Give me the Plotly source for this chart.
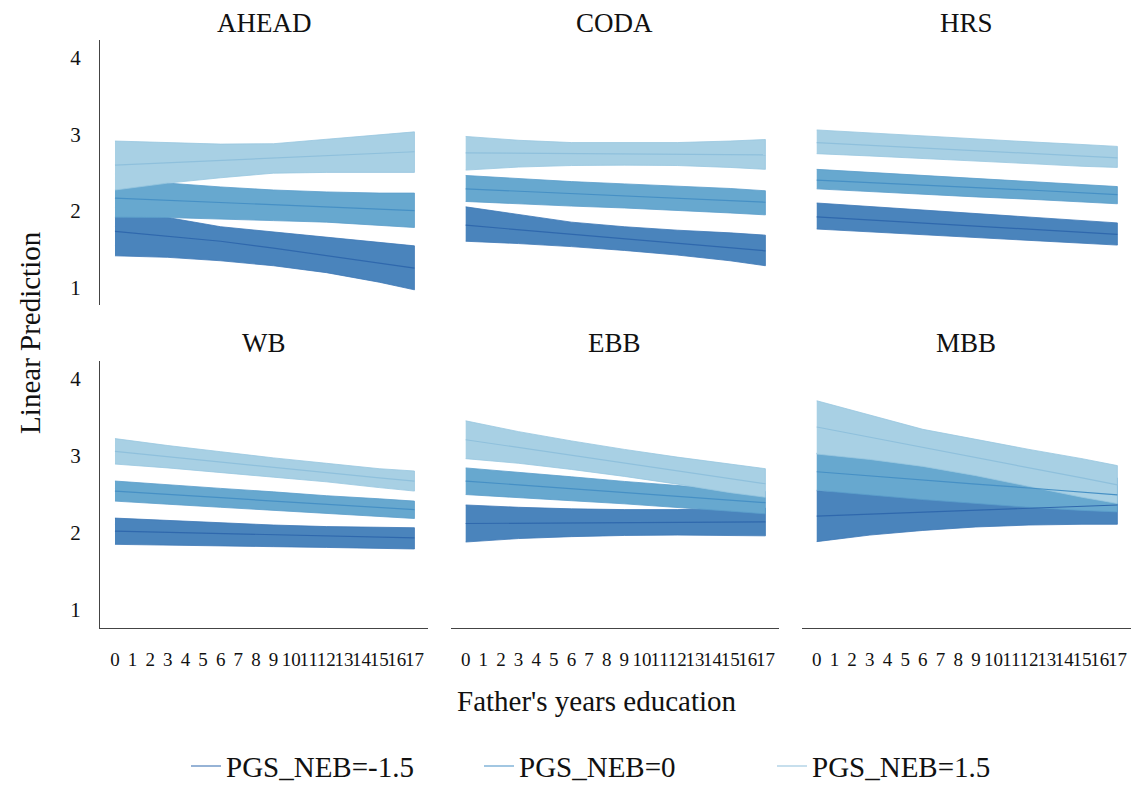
import plotly.graph_objects as go

# Father's years of education at which the margins were evaluated
EDU_POINTS = [0, 3, 6, 9, 12, 15, 17]
TICK_VALUES = [0, 1, 2, 3, 4, 5, 6, 7, 8, 9, 10, 11, 12, 13, 14, 15, 16, 17]
Y_TICKS = [1, 2, 3, 4]

LEVELS = ["PGS_NEB=-1.5", "PGS_NEB=0", "PGS_NEB=1.5"]

# Per cohort: [PGS -1.5, PGS 0, PGS 1.5] -> lower CI, prediction, upper CI
AHEAD_LO = [[1.41, 1.39, 1.345, 1.28, 1.19, 1.065, 0.965],
            [1.915, 1.91, 1.89, 1.87, 1.85, 1.81, 1.78],
            [2.27, 2.36, 2.43, 2.49, 2.50, 2.50, 2.50]]
AHEAD_FIT = [[1.73, 1.665, 1.60, 1.51, 1.41, 1.315, 1.25],
             [2.165, 2.135, 2.11, 2.08, 2.05, 2.02, 2.00],
             [2.595, 2.625, 2.655, 2.685, 2.715, 2.745, 2.77]]
AHEAD_HI = [[2.04, 1.91, 1.79, 1.72, 1.65, 1.58, 1.54],
            [2.41, 2.36, 2.31, 2.27, 2.245, 2.23, 2.23],
            [2.91, 2.89, 2.87, 2.875, 2.93, 2.99, 3.03]]

CODA_LO = [[1.60, 1.57, 1.53, 1.48, 1.42, 1.345, 1.28],
           [2.12, 2.09, 2.06, 2.035, 2.005, 1.97, 1.945],
           [2.53, 2.57, 2.59, 2.595, 2.59, 2.565, 2.54]]
CODA_FIT = [[1.81, 1.75, 1.69, 1.63, 1.575, 1.515, 1.475],
            [2.285, 2.255, 2.225, 2.195, 2.165, 2.135, 2.11],
            [2.755, 2.75, 2.745, 2.74, 2.74, 2.735, 2.73]]
CODA_HI = [[2.05, 1.95, 1.85, 1.79, 1.745, 1.71, 1.68],
           [2.46, 2.42, 2.38, 2.35, 2.32, 2.29, 2.26],
           [2.97, 2.92, 2.89, 2.89, 2.89, 2.91, 2.93]]

HRS_LO = [[1.76, 1.72, 1.685, 1.65, 1.61, 1.575, 1.55],
          [2.285, 2.25, 2.215, 2.18, 2.15, 2.115, 2.09],
          [2.745, 2.715, 2.68, 2.65, 2.615, 2.58, 2.565]]
HRS_FIT = [[1.92, 1.88, 1.84, 1.80, 1.76, 1.72, 1.69],
           [2.40, 2.365, 2.335, 2.30, 2.27, 2.235, 2.21],
           [2.89, 2.855, 2.82, 2.785, 2.75, 2.715, 2.69]]
HRS_HI = [[2.10, 2.055, 2.01, 1.96, 1.92, 1.87, 1.84],
          [2.54, 2.50, 2.46, 2.42, 2.38, 2.34, 2.315],
          [3.055, 3.015, 2.98, 2.94, 2.90, 2.865, 2.84]]

WB_LO = [[1.85, 1.84, 1.83, 1.82, 1.81, 1.80, 1.79],
         [2.41, 2.37, 2.33, 2.29, 2.25, 2.21, 2.185],
         [2.89, 2.84, 2.78, 2.72, 2.66, 2.585, 2.54]]
WB_FIT = [[2.02, 2.005, 1.99, 1.975, 1.96, 1.945, 1.935],
          [2.54, 2.50, 2.455, 2.41, 2.37, 2.325, 2.30],
          [3.055, 2.985, 2.92, 2.85, 2.78, 2.71, 2.67]]
WB_HI = [[2.19, 2.16, 2.13, 2.10, 2.08, 2.07, 2.065],
         [2.67, 2.62, 2.575, 2.53, 2.48, 2.44, 2.41],
         [3.22, 3.13, 3.05, 2.97, 2.90, 2.83, 2.80]]

EBB_LO = [[1.88, 1.925, 1.95, 1.965, 1.97, 1.965, 1.96],
          [2.495, 2.455, 2.415, 2.375, 2.33, 2.28, 2.245],
          [2.96, 2.90, 2.82, 2.73, 2.63, 2.52, 2.46]]
EBB_FIT = [[2.12, 2.125, 2.13, 2.13, 2.135, 2.14, 2.14],
           [2.67, 2.62, 2.57, 2.52, 2.47, 2.42, 2.39],
           [3.205, 3.105, 3.005, 2.905, 2.805, 2.705, 2.635]]
EBB_HI = [[2.36, 2.33, 2.31, 2.30, 2.30, 2.31, 2.32],
          [2.84, 2.785, 2.725, 2.665, 2.61, 2.56, 2.535],
          [3.45, 3.31, 3.19, 3.08, 2.98, 2.89, 2.83]]

MBB_LO = [[1.885, 1.97, 2.03, 2.075, 2.10, 2.11, 2.11],
          [2.55, 2.49, 2.43, 2.38, 2.33, 2.29, 2.27],
          [3.02, 2.95, 2.86, 2.74, 2.60, 2.46, 2.38]]
MBB_FIT = [[2.215, 2.24, 2.265, 2.29, 2.315, 2.34, 2.36],
           [2.79, 2.735, 2.685, 2.63, 2.58, 2.525, 2.49],
           [3.37, 3.24, 3.11, 2.98, 2.845, 2.71, 2.62]]
MBB_HI = [[2.545, 2.51, 2.50, 2.505, 2.53, 2.57, 2.61],
          [3.03, 2.98, 2.94, 2.88, 2.83, 2.76, 2.71],
          [3.71, 3.52, 3.34, 3.21, 3.08, 2.96, 2.87]]

PANELS = [
    ("AHEAD", AHEAD_LO, AHEAD_FIT, AHEAD_HI),
    ("CODA", CODA_LO, CODA_FIT, CODA_HI),
    ("HRS", HRS_LO, HRS_FIT, HRS_HI),
    ("WB", WB_LO, WB_FIT, WB_HI),
    ("EBB", EBB_LO, EBB_FIT, EBB_HI),
    ("MBB", MBB_LO, MBB_FIT, MBB_HI),
]

FILL_COLORS = ["#4a84bc", "#67a8cf", "#a8d0e4"]
EDGE_COLORS = ["#3f79b6", "#5a9dca", "#98c6df"]
LINE_COLORS = ["#2f68ad", "#4690c5", "#8fc0dc"]

FONT = "Liberation Serif"
TEXT = "#111111"
W, H = 1132, 792

# panel geometry in pixels
COL_X = [(100, 428), (450.7, 779), (801.7, 1131)]
ROW_Y = [(40.7, 306.7), (363.3, 631.7)]
X_RANGE = [-0.85, 17.77]
Y_RANGE = [0.77, 4.225]

fig = go.Figure()

for i, (name, lo, fit, hi) in enumerate(PANELS):
    suffix = "" if i == 0 else str(i + 1)
    xa, ya = "x" + suffix, "y" + suffix
    # confidence bands, drawn low to high level so later ones sit on top
    for k in range(3):
        fig.add_trace(go.Scatter(
            x=EDU_POINTS + EDU_POINTS[::-1],
            y=hi[k] + lo[k][::-1],
            fill="toself", fillcolor=FILL_COLORS[k],
            line=dict(color=EDGE_COLORS[k], width=0.8),
            mode="lines", hoverinfo="skip", showlegend=False,
            xaxis=xa, yaxis=ya,
        ))
    # predicted values on top of all bands
    for k in range(3):
        fig.add_trace(go.Scatter(
            x=EDU_POINTS, y=fit[k], mode="lines",
            line=dict(color=LINE_COLORS[k], width=1.2),
            name=LEVELS[k], showlegend=(i == 0),
            xaxis=xa, yaxis=ya,
        ))

layout = dict(
    width=W, height=H,
    margin=dict(l=0, r=0, t=0, b=0),
    paper_bgcolor="white", plot_bgcolor="white",
    font=dict(family=FONT, color=TEXT),
    showlegend=True,
    legend=dict(
        orientation="h", x=186 / W, xanchor="left", y=1 - 771 / H, yanchor="middle",
        font=dict(size=29, family=FONT, color=TEXT),
        entrywidth=248, entrywidthmode="pixels",
        bgcolor="rgba(0,0,0,0)",
    ),
)

annotations = []
for i, (name, *_rest) in enumerate(PANELS):
    row, col = divmod(i, 3)
    suffix = "" if i == 0 else str(i + 1)
    x0, x1 = COL_X[col]
    y0, y1 = ROW_Y[row]
    layout["xaxis" + suffix] = dict(
        domain=[x0 / W, x1 / W], range=X_RANGE, anchor="y" + suffix,
        showgrid=False, zeroline=False,
        showline=(row == 1), linecolor="#444444", linewidth=1.3,
        tickmode="array", tickvals=TICK_VALUES,
        ticktext=[str(v) for v in TICK_VALUES],
        showticklabels=(row == 1), ticks="", tickangle=0,
        ticklabelstandoff=14,
        tickfont=dict(size=19, family=FONT, color=TEXT),
    )
    layout["yaxis" + suffix] = dict(
        domain=[1 - y1 / H, 1 - y0 / H], range=Y_RANGE, anchor="x" + suffix,
        showgrid=False, zeroline=False,
        showline=(col == 0), linecolor="#444444", linewidth=1.3,
        tickmode="array", tickvals=Y_TICKS,
        showticklabels=(col == 0), ticks="",
        ticklabelstandoff=14,
        tickfont=dict(size=21, family=FONT, color=TEXT),
    )
    annotations.append(dict(
        text=name, x=(x0 + x1) / 2 / W, y=1 - (y0 - 18) / H,
        xref="paper", yref="paper", xanchor="center", yanchor="middle",
        showarrow=False, font=dict(size=27, family=FONT, color=TEXT),
    ))

annotations.append(dict(
    text="Linear Prediction", x=30 / W, y=1 - 335 / H, xref="paper", yref="paper",
    xanchor="center", yanchor="middle", textangle=-90, showarrow=False,
    font=dict(size=29, family=FONT, color=TEXT),
))
annotations.append(dict(
    text="Father's years education", x=597 / W, y=1 - 705 / H,
    xref="paper", yref="paper", xanchor="center", yanchor="middle",
    showarrow=False, font=dict(size=29, family=FONT, color=TEXT),
))
layout["annotations"] = annotations

fig.update_layout(**layout)
fig.write_html("out.html")
